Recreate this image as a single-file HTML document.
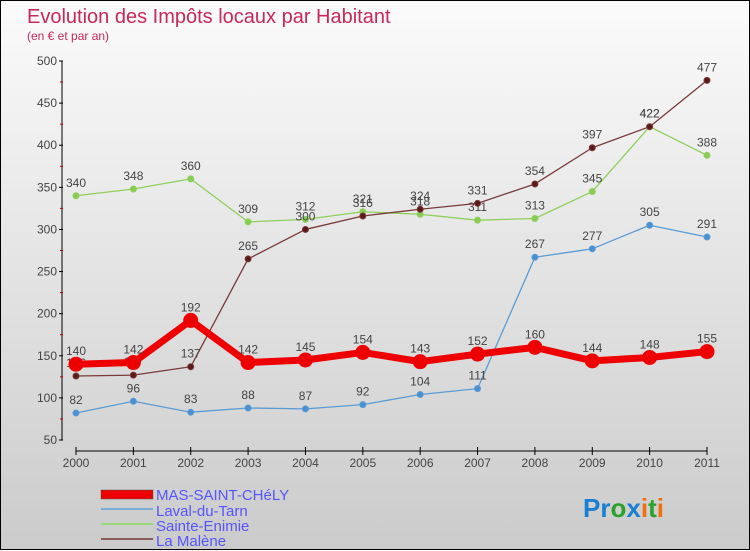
<!DOCTYPE html>
<html><head><meta charset="utf-8"><style>
html,body{margin:0;padding:0}
body{width:750px;height:550px;overflow:hidden;font-family:"Liberation Sans",sans-serif}
#wrap{position:relative;width:748px;height:548px;border:1px solid #000;background:linear-gradient(#fbfbfb,#cbcbcb)}
svg{position:absolute;left:0;top:0}
</style></head><body>
<div id="wrap">
<svg id="chart" width="750" height="550">
<text x="26" y="22" font-size="20" fill="#c8285a">Evolution des Impôts locaux par Habitant</text>
<text x="26" y="39" font-size="12" fill="#c8285a">(en € et par an)</text>
<g id="axes"></g><g id="series"></g>
<g>
<rect x="100" y="489" width="52" height="9" fill="#e00" stroke="#555" stroke-width="0.5"/>
<text x="155" y="499" font-size="15" fill="#55f">MAS-SAINT-CHéLY</text>
<line x1="100" y1="508" x2="152" y2="508" stroke="#7aaed6" stroke-width="2"/>
<text x="155" y="515" font-size="15" fill="#55f">Laval-du-Tarn</text>
<line x1="100" y1="523" x2="152" y2="523" stroke="#99d977" stroke-width="2"/>
<text x="155" y="530" font-size="15" fill="#55f">Sainte-Enimie</text>
<line x1="100" y1="538" x2="152" y2="538" stroke="#8b5a5a" stroke-width="2"/>
<text x="155" y="545" font-size="15" fill="#55f">La Malène</text>
</g>
<text x="582" y="516" font-size="26" font-weight="bold"><tspan fill="#1a7fd0">Pr</tspan><tspan fill="#2ca02c">o</tspan><tspan fill="#1a7fd0">x</tspan><tspan fill="#f07010">i</tspan><tspan fill="#2ca02c">t</tspan><tspan fill="#f07010">i</tspan></text>
</svg></div>
<script>
const years=[2000,2001,2002,2003,2004,2005,2006,2007,2008,2009,2010,2011];
const yTicks=[50,100,150,200,250,300,350,400,450,500];
const masValues=[140,142,192,142,145,154,143,152,160,144,148,155];
const lavalValues=[82,96,83,88,87,92,104,111,267,277,305,291];
const enimieValues=[340,348,360,309,312,321,318,311,313,345,422,388];
const maleneValues=[126,127,137,265,300,316,324,331,354,397,422,477];
const NS="http://www.w3.org/2000/svg";
function X(i){return 75+i*(706-75)/(years.length-1);}
function Y(v){return 439-(v-50)*(439-60)/450;}
function mk(tag,attrs,parent){const e=document.createElementNS(NS,tag);for(const k in attrs)e.setAttribute(k,attrs[k]);parent.appendChild(e);return e;}
const ax=document.getElementById('axes');
let a=mk('line',{x1:61,y1:Y(500),x2:61,y2:Y(50),stroke:'#000'},ax);


a=mk('line',{x1:X(0),y1:450,x2:X(11),y2:450,stroke:'#000'},ax);


yTicks.forEach(v=>{
 mk('line',{x1:58,y1:Y(v),x2:62,y2:Y(v),stroke:'#000'},ax);
 if(v<500) mk('line',{x1:59,y1:Y(v+25),x2:62,y2:Y(v+25),stroke:'#c00'},ax);
 const t=mk('text',{x:56,y:Y(v)+4,'font-size':12,fill:'#444','text-anchor':'end'},ax);t.textContent=v;
 
 
});
years.forEach((yr,i)=>{
 mk('line',{x1:X(i),y1:446,x2:X(i),y2:454,stroke:'#000'},ax);
 const t=mk('text',{x:X(i),y:466,'font-size':12,fill:'#444','text-anchor':'middle'},ax);t.textContent=yr;
 
 
});
const sg=document.getElementById('series');
function draw(vals,color,w,r,name,dot){
 const g=mk('g',{},sg);
 
 
 mk('polyline',{points:vals.map((v,i)=>X(i)+','+Y(v)).join(' '),fill:'none',stroke:color,'stroke-width':w,'stroke-linejoin':'round'},g);
 vals.forEach((v,i)=>{
  const c=mk('circle',{cx:X(i),cy:Y(v),r:r,fill:dot,stroke:color,'stroke-width':1},g);
  
  
  const t=mk('text',{x:X(i),y:Y(v)-9,'font-size':12,fill:'#444','text-anchor':'middle'},g);t.textContent=v;
  
  
 });
}
draw(lavalValues,'#5b9bd5',1.3,3,'series-laval-du-tarn','#4a90d0');
draw(enimieValues,'#8ed05a',1.3,3,'series-sainte-enimie','#88cc55');
draw(maleneValues,'#7a3a3a',1.3,3,'series-la-malene','#5a1a1a');
draw(masValues,'#ee0000',7,7,'series-mas-saint-chely','#ee0000');
</script>
</body></html>
